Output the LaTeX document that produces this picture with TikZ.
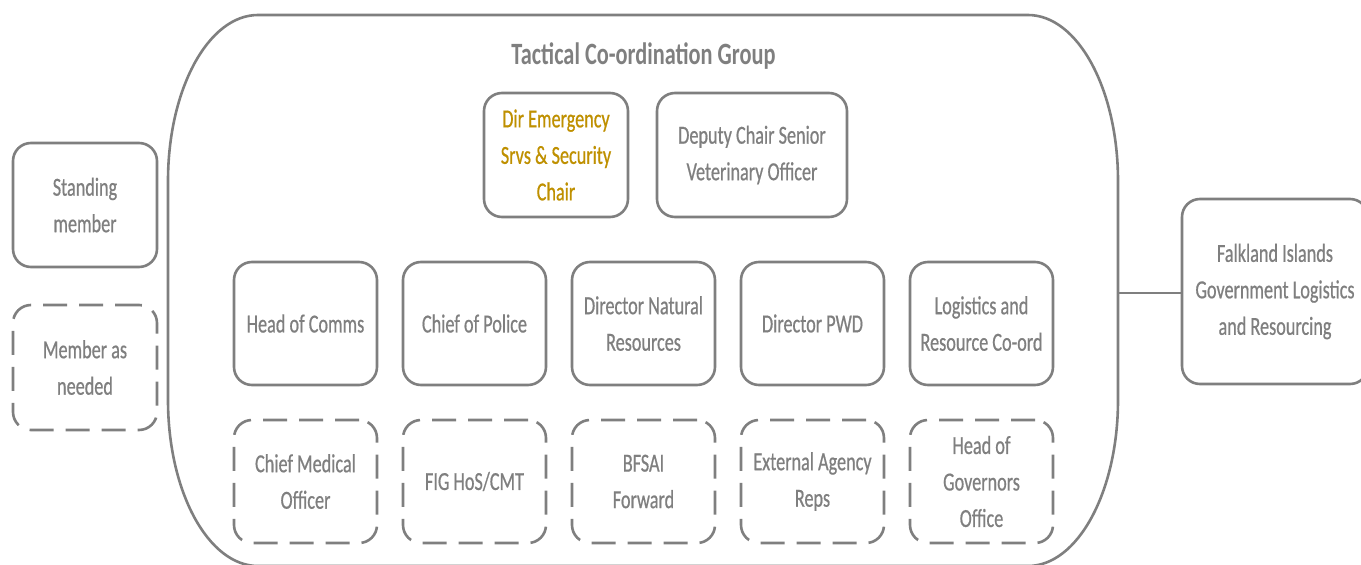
\documentclass[tikz,border=0pt]{standalone}
\usepackage{fontspec}
\newfontfamily\boxfont{Carlito}[FakeStretch=0.70, FakeBold=0.6]
\newfontfamily\titlefont{Carlito}[FakeStretch=0.72]
\definecolor{linegray}{HTML}{7F7F7F}
\definecolor{textgray}{HTML}{7F7F7F}
\definecolor{gold}{HTML}{BF9000}
\tikzset{
  member/.style={draw=linegray, line width=2.6pt, rounded corners=18pt, fill=white,
    align=center, text=textgray, inner sep=2pt,
    font=\boxfont\fontsize{26}{36.5}\selectfont},
  solidbox/.style={member},
  dashbox/.style={member, dash pattern=on 24pt off 12pt},
  link/.style={draw=linegray, line width=2.6pt},
}
\begin{document}
\begin{tikzpicture}[x=1pt,y=-1pt]
\useasboundingbox (0,0) rectangle (1361,565);
\clip (0,0) rectangle (1361,565);
% group container
\draw[link] (258,15) -- (1028,15)
  .. controls (1077.7,15) and (1118,89.3) .. (1118,181)
  -- (1118,400)
  .. controls (1118,491.7) and (1077.7,566) .. (1028,566)
  -- (258,566)
  .. controls (208.3,566) and (168,491.7) .. (168,400)
  -- (168,181)
  .. controls (168,89.3) and (208.3,15) .. (258,15) -- cycle;
\coordinate (grpR) at (1118,293);
\node[text=textgray, font=\titlefont\bfseries\fontsize{31}{36}\selectfont] (title) at (643.5,56) {Tactical Co-ordination Group};
% legend
\node[solidbox, minimum width=144pt, minimum height=124pt] (standing) at (85,205) {Standing\\member};
\node[dashbox, minimum width=144pt, minimum height=125pt] (asneeded) at (85,367.5) {Member as\\needed};
% top row
\node[solidbox, minimum width=144pt, minimum height=124pt, text=gold] (chair) at (556,155) {Dir Emergency\\Srvs \& Security\\Chair};
\node[solidbox, minimum width=190pt, minimum height=124pt] (deputy) at (752,155) {Deputy Chair Senior\\Veterinary Officer};
% second row
\node[solidbox, minimum width=143pt, minimum height=123pt] (comms) at (305.5,323.5) {Head of Comms};
\node[solidbox, minimum width=143pt, minimum height=123pt] (police) at (474.5,323.5) {Chief of Police};
\node[solidbox, minimum width=143pt, minimum height=123pt] (natres) at (643.5,323.5) {Director Natural\\Resources};
\node[solidbox, minimum width=143pt, minimum height=123pt] (pwd) at (812.5,323.5) {Director PWD};
\node[solidbox, minimum width=143pt, minimum height=123pt] (logco) at (981.5,323.5) {Logistics and\\Resource Co-ord};
% third row
\node[dashbox, minimum width=143pt, minimum height=123pt] (cmo) at (305.5,481.5) {Chief Medical\\Officer};
\node[dashbox, minimum width=143pt, minimum height=123pt] (hos) at (474.5,481.5) {FIG HoS/CMT};
\node[dashbox, minimum width=143pt, minimum height=123pt] (bfsai) at (643.5,481.5) {BFSAI\\Forward};
\node[dashbox, minimum width=143pt, minimum height=123pt] (ext) at (812.5,481.5) {External Agency\\Reps};
\node[dashbox, minimum width=143pt, minimum height=123pt] (gov) at (981.5,481.5) {Head of\\Governors\\Office};
% external
\node[solidbox, minimum width=186pt, minimum height=185pt] (figlr) at (1275,291.5) {Falkland Islands\\Government Logistics\\and Resourcing};
\draw[link] (grpR) -- (figlr.west |- grpR);
\end{tikzpicture}
\end{document}
